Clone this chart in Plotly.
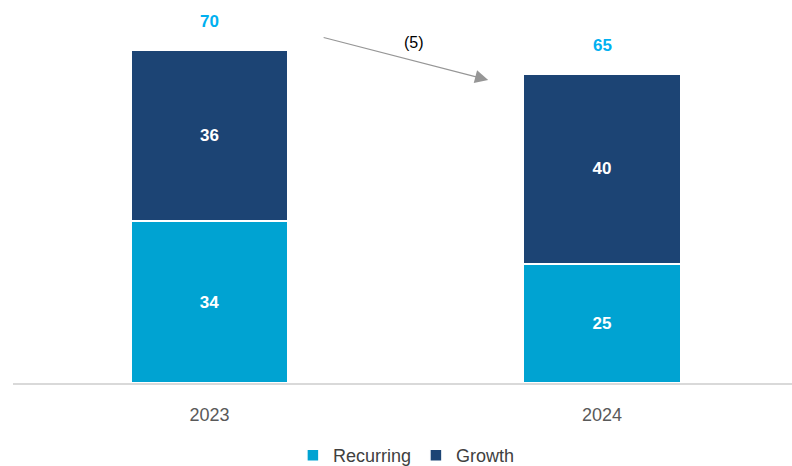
import plotly.graph_objects as go

years = ["2023", "2024"]
recurring = [34, 25]
growth = [36, 40]
totals = [r + g for r, g in zip(recurring, growth)]
change_label = "(5)"

C_REC = "#00A3D2"
C_GRO = "#1C4474"
C_TOT = "#00B0F0"
FONT = "Liberation Sans, Arial, sans-serif"

fig = go.Figure()
fig.add_trace(go.Bar(
    name="Recurring", x=years, y=recurring, marker_color=C_REC,
    marker_line=dict(color="white", width=1.5),
    text=[str(v) for v in recurring], textposition="inside",
    insidetextanchor="middle",
    textfont=dict(color="white", size=17, family=FONT, weight="bold"),
    width=0.4,
))
fig.add_trace(go.Bar(
    name="Growth", x=years, y=growth, marker_color=C_GRO,
    marker_line=dict(color="white", width=1.5),
    text=[str(v) for v in growth], textposition="inside",
    insidetextanchor="middle",
    textfont=dict(color="white", size=17, family=FONT, weight="bold"),
    width=0.4,
))

for i, t in enumerate(totals):
    fig.add_annotation(x=i, y=t, text=f"<b>{t}</b>", showarrow=False,
                       yshift=28, font=dict(color=C_TOT, size=17, family=FONT))

# arrow between totals
fig.add_annotation(x=0.71, y=totals[1] - 1.3, ax=0.287, ay=totals[0] + 2.7,
                   xref="x", yref="y", axref="x", ayref="y",
                   showarrow=True, arrowhead=2, arrowsize=2.2, arrowwidth=1.2,
                   arrowcolor="#969696", text="")
fig.add_annotation(x=0.52, y=(totals[0] + totals[1]) / 2 + 4, text=change_label,
                   showarrow=False, font=dict(color="black", size=16, family=FONT))

fig.update_layout(
    width=792, height=466,
    margin=dict(l=13, r=0, t=10, b=83, autoexpand=False),
    barmode="stack",
    plot_bgcolor="white", paper_bgcolor="white",
    font=dict(family=FONT),
    showlegend=True,
    legend=dict(orientation="h", x=0.505, xanchor="center", y=-0.145, yanchor="top",
                font=dict(size=18, color="#404040", family="Liberation Sans Narrow, Arial Narrow, Liberation Sans"),
                itemwidth=30, traceorder="normal"),
    xaxis=dict(range=[-0.5006, 1.484], showline=True, linecolor="#D9D9D9", linewidth=2,
               ticks="outside", ticklen=14, tickcolor="rgba(0,0,0,0)",
               tickfont=dict(size=18, color="#595959", family=FONT),
               showgrid=False, zeroline=False),
    yaxis=dict(range=[0, 78.4], visible=False, showgrid=False, zeroline=False),
)

fig.write_html("out.html")
